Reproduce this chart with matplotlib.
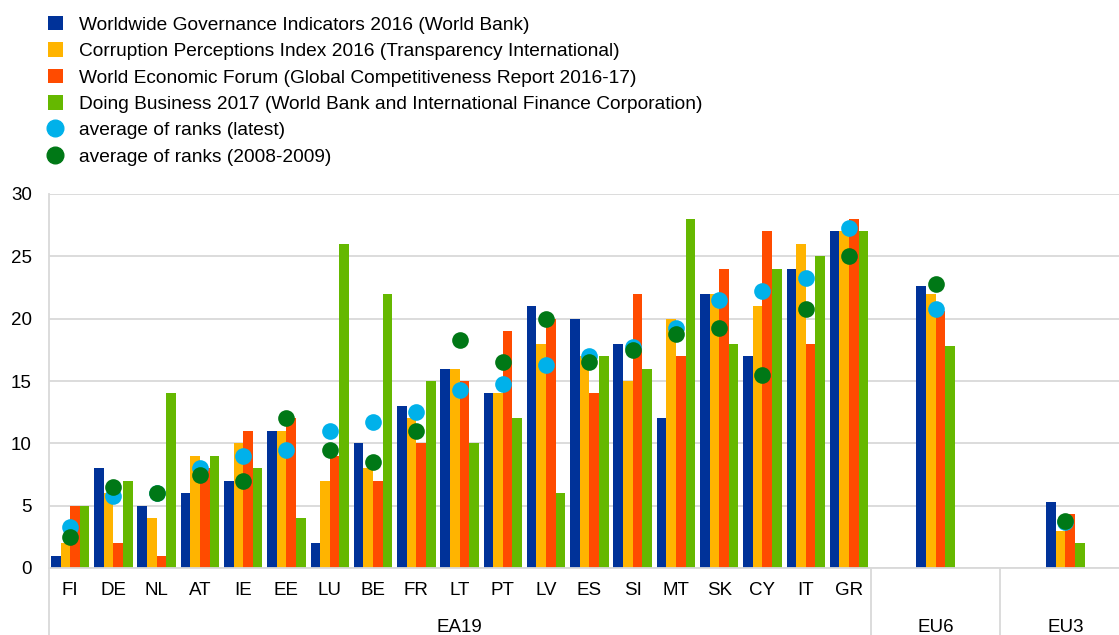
import matplotlib.pyplot as plt
import matplotlib.transforms as mtransforms
from matplotlib.patches import Patch
from matplotlib.lines import Line2D
import numpy as np

plt.rcParams['font.family'] = ['Liberation Sans', 'DejaVu Sans']

# Data
countries = ["FI", "DE", "NL", "AT", "IE", "EE", "LU", "BE", "FR", "LT",
             "PT", "LV", "ES", "SI", "MT", "SK", "CY", "IT", "GR", "EU6", "EU3"]
groups = ["EA19", "EU6", "EU3"]
wgi = [1, 8, 5, 6, 7, 11, 2, 10, 13, 16, 14, 21, 20, 18, 12, 22, 17, 24, 27, 22.6, 5.3]
cpi = [2, 6, 4, 9, 10, 11, 7, 8, 12, 16, 14, 18, 17, 15, 20, 22, 21, 26, 27, 22.0, 3.0]
wef = [5, 2, 1, 8, 11, 12, 9, 7, 10, 15, 19, 20, 14, 22, 17, 24, 27, 18, 28, 20.6, 4.3]
dbs = [5, 7, 14, 9, 8, 4, 26, 22, 15, 10, 12, 6, 17, 16, 28, 18, 24, 25, 27, 17.8, 2.0]
avg_latest = [3.25, 5.75, 6, 8, 9, 9.5, 11, 11.75, 12.5, 14.25, 14.75, 16.25, 17,
              17.75, 19.25, 21.5, 22.25, 23.25, 27.25, 20.75, 3.65]
avg_0809 = [2.5, 6.5, 6, 7.5, 7, 12, 9.5, 8.5, 11, 18.25, 16.5, 20, 16.5, 17.5,
            18.75, 19.25, 15.5, 20.75, 25, 22.75, 3.75]

series_labels = [
    "Worldwide Governance Indicators 2016 (World Bank)",
    "Corruption Perceptions Index 2016 (Transparency International)",
    "World Economic Forum (Global Competitiveness Report 2016-17)",
    "Doing Business 2017 (World Bank and International Finance Corporation)",
]
colors = ["#003299", "#FFB400", "#FF4B00", "#65B800"]
c_latest = "#00B1EA"
c_old = "#007816"
grey = "#d9d9d9"

# x positions: 19 euro area countries, then EU6 and EU3 each in a wider slot
x = np.array(list(range(19)) + [20, 23], dtype=float)
bar_w = 0.222

fig = plt.figure(figsize=(11.19, 6.35), dpi=100)
ax = fig.add_axes([48.5 / 1119, 67 / 635, 1 - 48.5 / 1119, 374 / 635])

for i, vals in enumerate([wgi, cpi, wef, dbs]):
    ax.bar(x + (i - 1.5) * bar_w, vals, width=bar_w, color=colors[i], zorder=2)

ax.plot(x, avg_latest, "o", color=c_latest, markersize=12, markeredgewidth=0, zorder=3)
ax.plot(x, avg_0809, "o", color=c_old, markersize=12, markeredgewidth=0, zorder=4)

ax.set_xlim(-0.5, 24.24)
ax.set_ylim(0, 30)
ax.set_yticks(range(0, 31, 5))
ax.yaxis.grid(True, color=grey, linewidth=1.3, zorder=0)
ax.set_axisbelow(True)
ax.tick_params(axis="y", length=0, pad=12, labelsize=13.5)
ax.set_xticks([])
for side in ["top", "right"]:
    ax.spines[side].set_visible(False)
for side in ["left", "bottom"]:
    ax.spines[side].set_color(grey)
    ax.spines[side].set_linewidth(1.3)

# category and group labels under the axis
trans = mtransforms.blended_transform_factory(ax.transData, ax.transAxes)
for xi, lab in zip(x, countries[:19]):
    ax.text(xi, -0.059, lab, transform=trans, ha="center", va="center", fontsize=13.5)
for xi, lab in zip([9, 20, 23], groups):
    ax.text(xi, -0.158, lab, transform=trans, ha="center", va="center", fontsize=13.5)
for xs in [-0.5, 18.5, 21.5]:
    ax.plot([xs, xs], [0, -0.18], transform=trans, color=grey, linewidth=1.3, clip_on=False)

# legend
handles = [Patch(facecolor=c) for c in colors]
handles += [Line2D([], [], marker="o", linestyle="", color=c_latest, markersize=12),
            Line2D([], [], marker="o", linestyle="", color=c_old, markersize=12)]
labels = series_labels + ["average of ranks (latest)", "average of ranks (2008-2009)"]
fig.legend(handles, labels, loc="upper left", bbox_to_anchor=(40 / 1119, 1 - 8 / 635),
           frameon=False, fontsize=13.8, handlelength=0.8, handleheight=0.8,
           handletextpad=0.85, labelspacing=0.44, borderaxespad=0)

fig.savefig("out.png", dpi=100)
